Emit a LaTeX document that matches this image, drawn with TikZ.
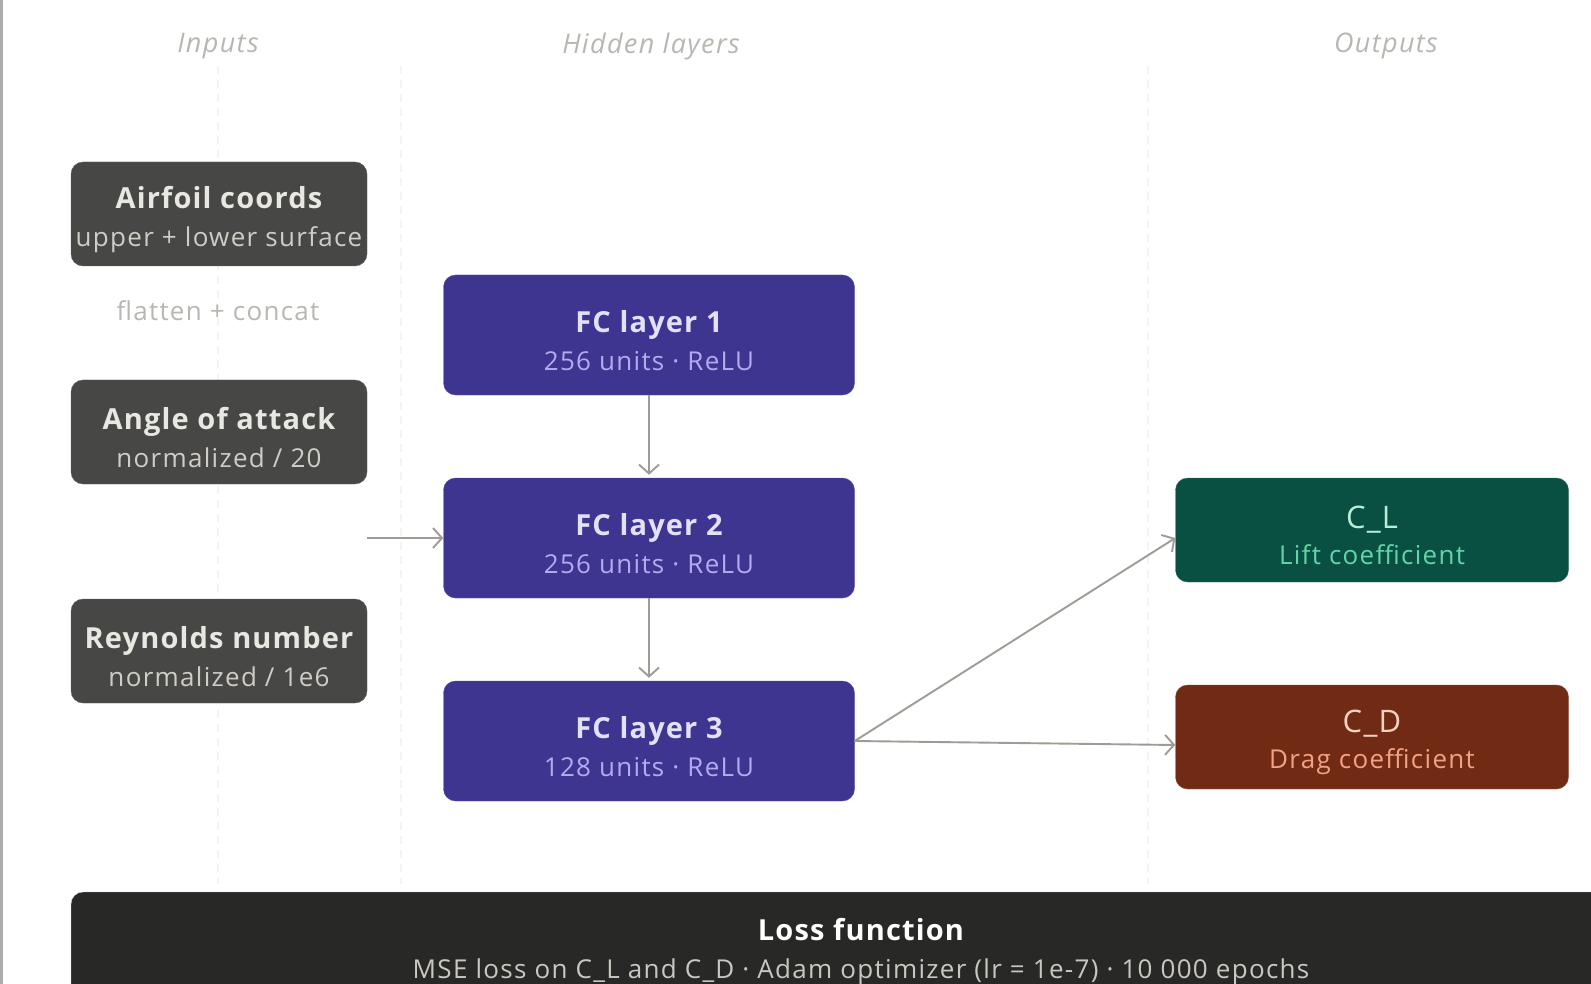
\documentclass[tikz,border=0pt]{standalone}
\usepackage{fontspec}
\setmainfont{Open Sans}
\usepackage{xcolor}
\usetikzlibrary{arrows.meta}

\definecolor{inputfill}{HTML}{474745}
\definecolor{inputtitle}{HTML}{E9E7E1}
\definecolor{inputsub}{HTML}{CFCDC6}
\definecolor{layerfill}{HTML}{3D3590}
\definecolor{layertitle}{HTML}{E3E0F7}
\definecolor{layersub}{HTML}{B3ABF0}
\definecolor{liftfill}{HTML}{0A5042}
\definecolor{lifttitle}{HTML}{B8EDD8}
\definecolor{liftsub}{HTML}{63D4A8}
\definecolor{dragfill}{HTML}{712B14}
\definecolor{dragtitle}{HTML}{F6D2C2}
\definecolor{dragsub}{HTML}{F2A283}
\definecolor{lossfill}{HTML}{282826}
\definecolor{losssub}{HTML}{C9C7C0}
\definecolor{flowgray}{HTML}{9D9C95}
\definecolor{headgray}{HTML}{B9B7B1}
\definecolor{rulegray}{HTML}{F4F4F2}

\begin{document}
\begin{tikzpicture}[x=1pt, y=-1pt,
    basebox/.style={rectangle, rounded corners=12pt, inner sep=0pt, align=center,
      font=\fontsize{26}{32}\selectfont},
    inputnode/.style={basebox, fill=inputfill, draw=inputfill!85!white, text=inputtitle,
      minimum width=296pt, minimum height=104pt},
    layernode/.style={basebox, fill=layerfill, draw=layerfill!85!white, text=layertitle,
      minimum width=411pt, minimum height=120pt},
    outputnode/.style={basebox, minimum width=393pt, minimum height=104pt},
    flow/.style={draw=flowgray, line width=1.9pt, -{Straight Barb[length=9pt,width=20pt]}},
    colhead/.style={text=headgray, font=\itshape\fontsize{27}{32}\selectfont\addfontfeature{LetterSpace=5}},
    colrule/.style={draw=rulegray, line width=1.5pt, dash pattern=on 8pt off 6pt}]
    \def\subtext#1#2{{\fontsize{26}{32}\selectfont\addfontfeature{LetterSpace=5}\color{#2}#1}}
    \def\twolines#1#2#3{\rule{0pt}{33pt}{\bfseries\fontsize{29}{32}\selectfont\addfontfeature{LetterSpace=4}#1}\\[6pt]%
      \subtext{#2}{#3}}

    \clip (0,0) rectangle (1591,984);
    \fill[white] (0,0) rectangle (1591,984);
    \draw[line width=3pt, gray!65] (1.5,0) -- (1.5,984);

    % column guides
    \draw[colrule] (218,66) -- (218,884);
    \draw[colrule] (401,66) -- (401,884);
    \draw[colrule] (1148,66) -- (1148,884);

    \node[colhead] (hin) at (218,46) {Inputs};
    \node[colhead] (hhid) at (651,46) {Hidden layers};
    \node[colhead] (hout) at (1386,46) {Outputs};

    % inputs
    \node[inputnode] (airfoil) at (219,214) {\twolines{Airfoil coords}{upper + lower surface}{inputsub}};
    \node[font=\fontsize{26}{32}\selectfont] (concat) at (218,311) {\subtext{flatten + concat}{headgray}};
    \node[inputnode] (alpha) at (219,432) {\twolines{Angle of attack}{normalized / 20}{inputsub}};
    \node[inputnode] (reyn) at (219,651) {\twolines{Reynolds number}{normalized / 1e6}{inputsub}};
    \coordinate (merge) at (367,538);

    % hidden layers
    \node[layernode] (fc1) at (649,335) {\twolines{FC layer 1}{256 units · ReLU}{layersub}};
    \node[layernode] (fc2) at (649,538) {\twolines{FC layer 2}{256 units · ReLU}{layersub}};
    \node[layernode] (fc3) at (649,741) {\twolines{FC layer 3}{128 units · ReLU}{layersub}};

    % outputs
    \node[outputnode, fill=liftfill, draw=liftfill!80!white, text=lifttitle] (cl) at (1372,530)
      {\rule{0pt}{33pt}{\fontsize{31}{32}\selectfont\addfontfeature{LetterSpace=4}C\_L}\\[4pt]\subtext{Lift coefficient}{liftsub}};
    \node[outputnode, fill=dragfill, draw=dragfill!80!white, text=dragtitle] (cd) at (1372,737)
      {\rule{0pt}{33pt}{\fontsize{31}{32}\selectfont\addfontfeature{LetterSpace=4}C\_D}\\[4pt]\subtext{Drag coefficient}{dragsub}};

    % loss
    \node[basebox, fill=lossfill, draw=gray!40, text=white, minimum width=1580pt,
      minimum height=108pt] (loss) at (861,946)
      {\twolines{Loss function}{MSE loss on C\_L and C\_D · Adam optimizer (lr = 1e-7) · 10 000 epochs}{losssub}};

    \draw[flow] (merge) -- (fc2.west);
    \draw[flow, shorten >=3pt] (fc1) -- (fc2);
    \draw[flow, shorten >=3pt] (fc2) -- (fc3);
    \draw[flow] (fc3.east) -- ([yshift=-8pt]cl.west);
    \draw[flow] (fc3.east) -- ([yshift=-8pt]cd.west);
\end{tikzpicture}
\end{document}
